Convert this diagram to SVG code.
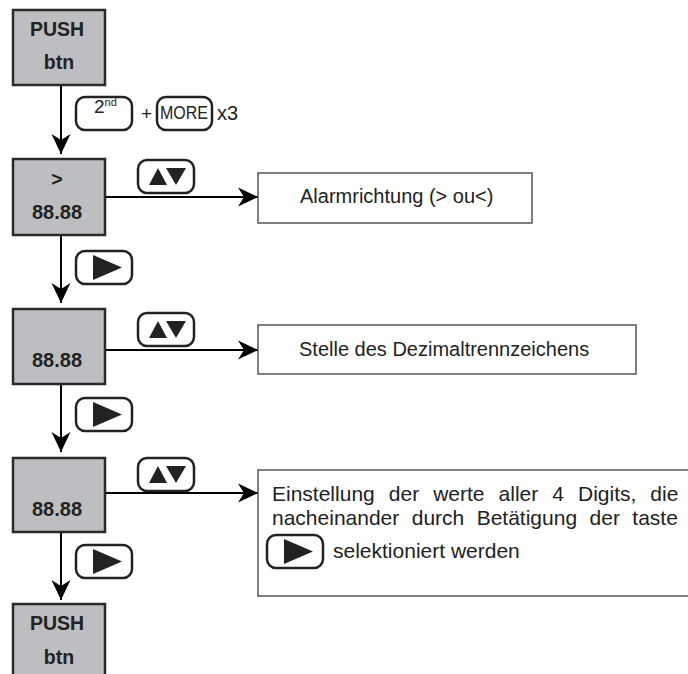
<svg xmlns="http://www.w3.org/2000/svg" xmlns:xlink="http://www.w3.org/1999/xlink" width="688" height="674" viewBox="0 0 688 674">
<style>
.state{fill:#bdbec1;stroke:#2a2a2a;stroke-width:2.5}
.st{font-family:"Liberation Sans",Arial,sans-serif;font-weight:bold;font-size:19.5px;fill:#222;text-anchor:middle}
.info{fill:#fff;stroke:#555;stroke-width:1.5}
.it{font-family:"Liberation Sans",Arial,sans-serif;font-size:20px;fill:#222}
.btn{fill:#fff;stroke:#222;stroke-width:2.5}
.conn{stroke:#000;stroke-width:2;fill:none}
.tri{fill:#222}
</style>
<defs>
<marker id="ah" viewBox="0 0 20 20" refX="20" refY="10" markerWidth="20" markerHeight="20" markerUnits="userSpaceOnUse" orient="auto">
<path d="M0,0.5 L20,10 L0,19.5 L6,10 z" fill="#000"/>
</marker>
<g id="btnUD">
<rect class="btn" x="0" y="0" width="56" height="33" rx="9"/>
<path class="tri" d="M11,25 L20,8 L29,25 z"/>
<path class="tri" d="M28,8 L48,8 L38,25 z"/>
</g>
<g id="btnR">
<rect class="btn" x="0" y="0" width="56" height="33" rx="9"/>
<path class="tri" d="M17,4 L46,16.5 L17,29 z"/>
</g>
</defs>
<rect width="688" height="674" fill="#fff"/>

<g id="connectors">
<line class="conn" x1="61" y1="85" x2="61" y2="154" marker-end="url(#ah)"/>
<line class="conn" x1="61" y1="235" x2="61" y2="303" marker-end="url(#ah)"/>
<line class="conn" x1="61" y1="384" x2="61" y2="452" marker-end="url(#ah)"/>
<line class="conn" x1="61" y1="532" x2="61" y2="600" marker-end="url(#ah)"/>
<line class="conn" x1="105" y1="197" x2="258" y2="197" marker-end="url(#ah)"/>
<line class="conn" x1="105" y1="350" x2="258" y2="350" marker-end="url(#ah)"/>
<line class="conn" x1="105" y1="493" x2="258" y2="493" marker-end="url(#ah)"/>
</g>

<g id="key-labels">
<rect class="btn" x="76" y="97" width="56" height="33" rx="9"/>
<text class="it" x="94" y="113" style="font-size:19px">2<tspan style="font-size:11px" dy="-7">nd</tspan></text>
<text class="it" x="141" y="120" style="font-size:19px">+</text>
<rect class="btn" x="157" y="97" width="55" height="33" rx="9"/>
<text class="it" x="160" y="119" style="font-size:19px" textLength="48" lengthAdjust="spacingAndGlyphs">MORE</text>
<text class="it" x="217" y="120">x3</text>
<use xlink:href="#btnUD" x="138" y="160"/>
<use xlink:href="#btnR" x="76" y="251"/>
<use xlink:href="#btnUD" x="138" y="313"/>
<use xlink:href="#btnR" x="76" y="398"/>
<use xlink:href="#btnUD" x="138" y="458"/>
<use xlink:href="#btnR" x="76" y="545"/>
</g>

<g id="push1">
<rect class="state" x="13" y="10" width="92" height="75"/>
<text class="st" x="57" y="36">PUSH</text>
<text class="st" x="59" y="69">btn</text>
</g>

<g id="state-alarm">
<rect class="state" x="13" y="159" width="92" height="76"/>
<text class="st" x="57" y="186">&gt;</text>
<text class="st" x="57" y="219" style="font-size:20px">88.88</text>
</g>

<g id="state-decimal">
<rect class="state" x="13" y="309" width="92" height="75"/>
<text class="st" x="57" y="367" style="font-size:20px">88.88</text>
</g>

<g id="state-digits">
<rect class="state" x="13" y="458" width="92" height="74"/>
<text class="st" x="57" y="516" style="font-size:20px">88.88</text>
</g>

<g id="push2">
<rect class="state" x="13" y="604" width="92" height="90"/>
<text class="st" x="57" y="630">PUSH</text>
<text class="st" x="59" y="664">btn</text>
</g>

<g id="info-alarm">
<rect class="info" x="258" y="173" width="274" height="50"/>
<text class="it" x="300" y="203">Alarmrichtung (&gt; ou&lt;)</text>
</g>

<g id="info-decimal">
<rect class="info" x="258" y="325" width="378" height="49"/>
<text class="it" x="299" y="356">Stelle des Dezimaltrennzeichens</text>
</g>

<g id="info-digits">
<rect class="info" x="258" y="470" width="450" height="126"/>
<text class="it" x="272" y="501" style="font-size:21px" word-spacing="8.2">Einstellung der werte aller 4 Digits, die</text>
<text class="it" x="272" y="525" style="font-size:21px" word-spacing="6.6">nacheinander durch Betätigung der taste</text>
<use xlink:href="#btnR" x="267" y="535"/>
<text class="it" x="333" y="558" style="font-size:21px">selektioniert werden</text>
</g>
</svg>
